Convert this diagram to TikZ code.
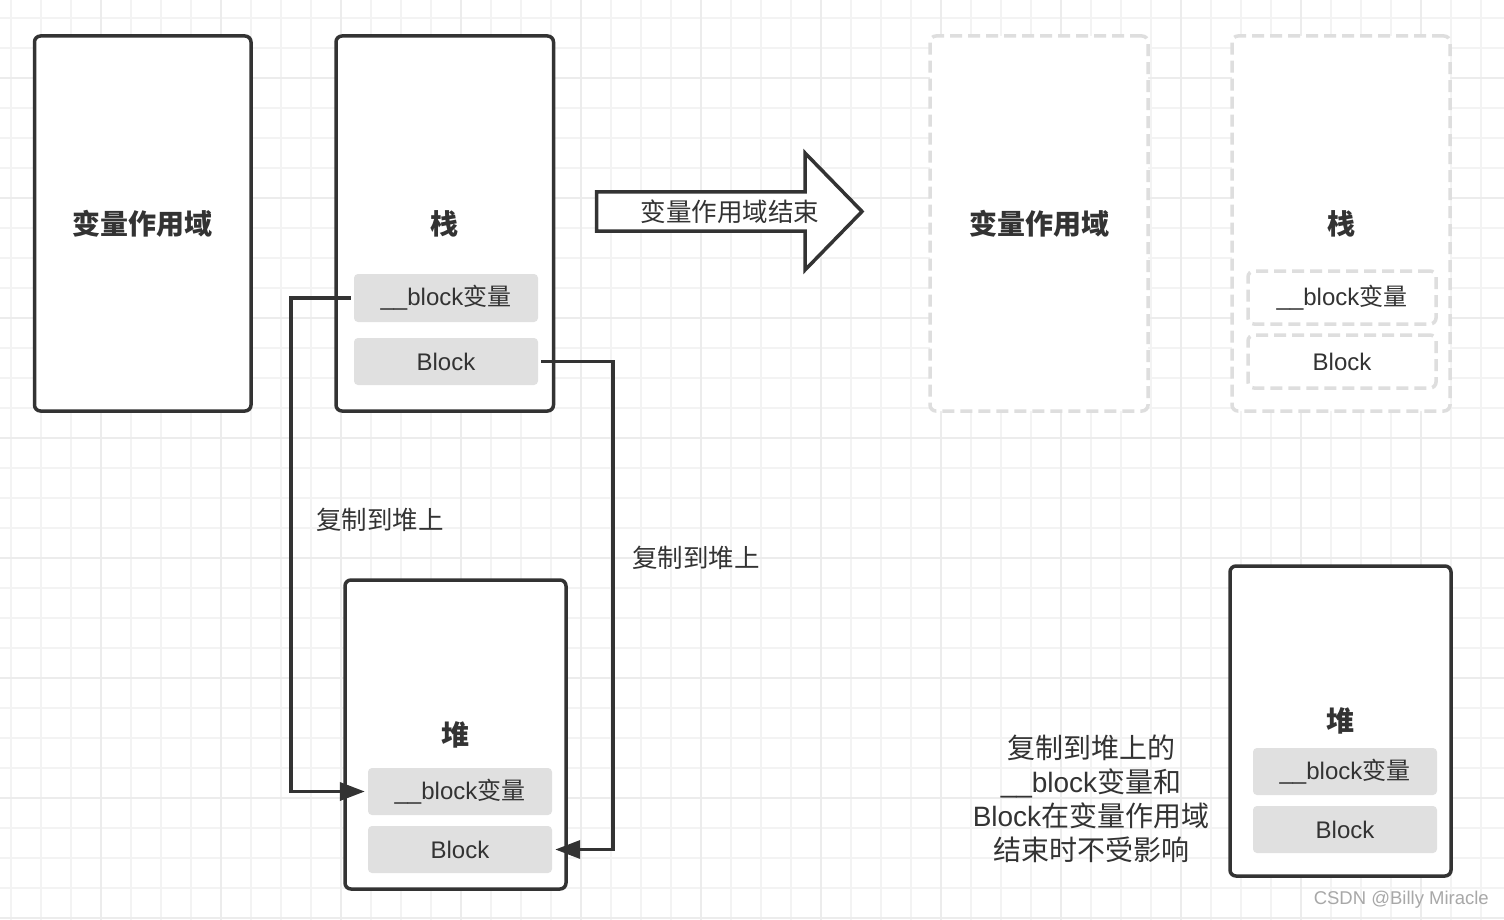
\documentclass[tikz,border=0pt]{standalone}
\usepackage{fontspec}
\setmainfont{Liberation Sans}
\newfontfamily\cjk{Noto Sans CJK SC}
\usetikzlibrary{arrows.meta}
\definecolor{ink}{HTML}{333333}
\definecolor{fillgray}{HTML}{E0E0E0}
\definecolor{dashgray}{HTML}{DEDEDE}
\definecolor{gridc}{HTML}{F3F3F3}
\definecolor{gridm}{HTML}{ECECEC}
\definecolor{wmark}{HTML}{A8A8A8}
\begin{document}
\begin{tikzpicture}[x=1pt,y=-1pt,
 bigbox/.style={draw=ink, line width=3.5pt, rounded corners=6pt, fill=white, inner sep=0pt, text=ink},
 ghostbox/.style={draw=dashgray, line width=3.5pt, rounded corners=6pt, dash pattern=on 12pt off 6pt, fill=white, inner sep=0pt, text=ink},
 item/.style={fill=fillgray, rounded corners=4pt, minimum width=184pt, inner sep=0pt, text=ink, font=\fontsize{24}{28}\selectfont},
 ghostitem/.style={draw=dashgray, line width=3.5pt, dash pattern=on 12pt off 6pt, rounded corners=6pt, fill=white, minimum width=188pt, minimum height=53pt, inner sep=0pt, text=ink, font=\fontsize{24}{28}\selectfont},
 title/.style={font=\cjk\bfseries\fontsize{28}{32}\selectfont},
 conn/.style={draw=ink, line width=3.5pt, -{Triangle[length=25pt,width=18pt]}, shorten <=3pt, shorten >=3pt},
 lbl/.style={text=ink, font=\cjk\fontsize{25.5}{30}\selectfont, inner sep=0pt}
]
\useasboundingbox (0,0) rectangle (1504,920);
\fill[white] (0,0) rectangle (1504,920);
% grid
\foreach \gx in {11,41,...,1501} \draw[gridc, line width=1.2pt] (\gx,0) -- (\gx,920);
\foreach \gy in {18,48,...,918} \draw[gridc, line width=1.2pt] (0,\gy) -- (1504,\gy);
\foreach \gx in {101,221,...,1501} \draw[gridm, line width=1.2pt] (\gx,0) -- (\gx,920);
\foreach \gy in {78,198,...,918} \draw[gridm, line width=1.2pt] (0,\gy) -- (1504,\gy);

% left: scope box
\node[bigbox, title, minimum width=216.5pt, minimum height=375pt] (scope) at (142.75,223.5) {变量作用域};
% stack
\node[bigbox, title, minimum width=217.5pt, minimum height=375pt] (stack) at (444.75,223.5) {栈};
\node[item, minimum height=48pt] (sbv) at (446,298) {\_\_block{\cjk 变量}};
\node[item, minimum height=47pt] (sblk) at (446,361.5) {Block};
% heap
\node[bigbox, title, minimum width=221pt, minimum height=309pt] (heap) at (455.5,734.5) {堆};
\node[item, minimum height=47pt] (hbv) at (460,791.5) {\_\_block{\cjk 变量}};
\node[item, minimum height=47pt] (hblk) at (460,849.5) {Block};

% connectors
\coordinate (lv) at (291,500);
\coordinate (rv) at (613,600);
\draw[conn] (sbv.west) -| (lv) |- (hbv.west);
\draw[conn] (sblk.east) -| (rv) |- (hblk.east);
\node[lbl, anchor=west] (copy1) at (316,520) {复制到堆上};
\node[lbl, anchor=west] (copy2) at (632,558) {复制到堆上};

% big arrow
\draw[draw=ink, line width=3.5pt, fill=white, line join=miter] (596.5,192) -- (805,192) -- (805,153) -- (862,211.5) -- (805,270) -- (805,231) -- (596.5,231) -- cycle;
\node[lbl] (endlbl) at (730,212) {变量作用域结束};

% right: ghost boxes
\node[ghostbox, title, minimum width=218pt, minimum height=375pt] (gscope) at (1039,223.5) {变量作用域};
\node[ghostbox, title, minimum width=218pt, minimum height=375pt] (gstack) at (1341,223.5) {栈};
\node[ghostitem] (gsbv) at (1342,297.5) {\_\_block{\cjk 变量}};
\node[ghostitem] (gsblk) at (1342,361.5) {Block};

% right heap
\node[bigbox, title, minimum width=221pt, minimum height=310pt] (rheap) at (1340.5,721) {堆};
\node[item, minimum height=47pt] (rhbv) at (1345,771.5) {\_\_block{\cjk 变量}};
\node[item, minimum height=47pt] (rhblk) at (1345,829.5) {Block};

% note
\node[text=ink, font=\fontsize{28}{34}\selectfont, align=center, inner sep=0pt] (note) at (1091,799) {{\cjk 复制到堆上的}\\\_\_block{\cjk 变量和}\\Block{\cjk 在变量作用域}\\{\cjk 结束时不受影响}};

% watermark
\node[anchor=east, text=wmark, font=\fontsize{18.5}{20}\selectfont, inner sep=0pt] (wm) at (1489,900) {CSDN @Billy Miracle};
\end{tikzpicture}
\end{document}
